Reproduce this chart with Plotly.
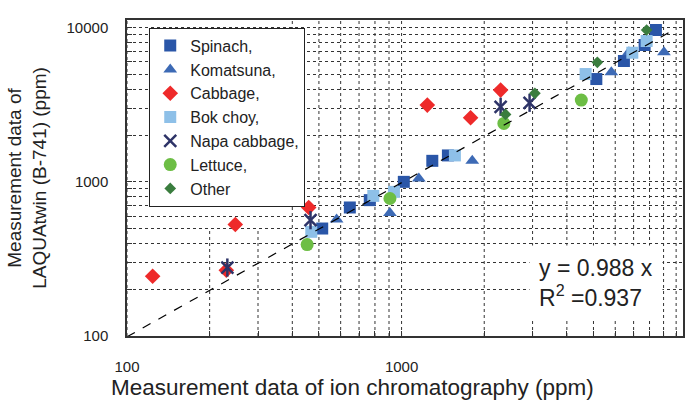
import plotly.graph_objects as go

# ---- data (ppm): x = ion chromatography, y = LAQUAtwin (B-741) ----
spinach_x = [514, 648, 766, 1019, 1294, 1475, 5121, 6454, 7677, 8440]
spinach_y = [498, 682, 761, 1000, 1369, 1484, 4645, 6081, 7723, 9660]

komatsuna_x = [580, 907, 1156, 1809, 5808, 6730, 9029]
komatsuna_y = [570, 629, 1052, 1369, 5133, 6923, 6923]

cabbage_x = [124, 248, 230, 459, 1241, 1784, 2295]
cabbage_y = [244, 529, 267, 682, 3148, 2604, 3939]

bokchoy_x = [469, 789, 938, 1564, 4680, 6925, 7808]
bokchoy_y = [474, 811, 861, 1484, 5005, 6881, 8197]

napa_x = [232, 466, 2295, 2926]
napa_y = [278, 564, 3069, 3258]

lettuce_x = [453, 907, 2358, 4514]
lettuce_y = [392, 780, 2394, 3393]

other_x = [2392, 3059, 5164, 7808]
other_y = [2740, 3750, 5963, 9660]

slope = 0.988
r2 = 0.937
trend_x = [100, 10000]

major_ticks = [100, 1000, 10000]
minor_ticks = [200, 300, 400, 500, 600, 700, 800, 900,
               2000, 3000, 4000, 5000, 6000, 7000, 8000, 9000]
short_vgrid = [200, 300]   # vertical grid lines only drawn up to y=500
short_vgrid_top = 500

x_title = "Measurement data of ion chromatography (ppm)"
y_title = "Measurement data of<br>LAQUAtwin (B-741) (ppm)"

FONT = "Liberation Sans"
TXT = "#222222"
NAPA = "#2E3468"

fig = go.Figure()

series = [
    ("Spinach,", spinach_x, spinach_y, "square", "#2A56A8", 12),
    ("Komatsuna,", komatsuna_x, komatsuna_y, "triangle-up", "#3D6AB5", 12),
    ("Cabbage,", cabbage_x, cabbage_y, "diamond", "#EE2A2A", 12),
    ("Bok choy,", bokchoy_x, bokchoy_y, "square", "#8EC0E8", 12),
]
for name, xs, ys, sym, col, sz in series:
    fig.add_trace(go.Scatter(x=xs, y=ys, mode="markers", name=name, legendgroup=name,
                             marker=dict(symbol=sym, color=col, size=sz, line=dict(width=0))))

# Napa cabbage: X with vertical bar (Excel star)
fig.add_trace(go.Scatter(x=napa_x, y=napa_y, mode="markers", name="Napa cabbage,",
                         legendgroup="napa",
                         marker=dict(symbol="x-thin-open", size=12, color=NAPA,
                                     line=dict(width=2.5, color=NAPA))))
fig.add_trace(go.Scatter(x=napa_x, y=napa_y, mode="markers", showlegend=False,
                         legendgroup="napa", hoverinfo="skip",
                         marker=dict(symbol="line-ns-open", size=13, color=NAPA,
                                     line=dict(width=2.5, color=NAPA))))

fig.add_trace(go.Scatter(x=lettuce_x, y=lettuce_y, mode="markers", name="Lettuce,",
                         legendgroup="lettuce",
                         marker=dict(symbol="circle", color="#6DBE45", size=13, line=dict(width=0))))
fig.add_trace(go.Scatter(x=other_x, y=other_y, mode="markers", name="Other",
                         legendgroup="other",
                         marker=dict(symbol="diamond", color="#3A7D3E", size=9, line=dict(width=0))))

# trend line y = 0.988 x
fig.add_trace(go.Scatter(x=trend_x, y=[slope * v for v in trend_x], mode="lines",
                         showlegend=False, hoverinfo="skip",
                         line=dict(color="black", width=1.2, dash="dash")))

# vertical grid lines
grid_line = dict(color="#333333", width=1, dash="dot")
for v in minor_ticks + major_ticks:
    if v in short_vgrid:
        fig.add_shape(type="line", xref="x", yref="y", x0=v, x1=v, y0=100, y1=short_vgrid_top,
                      line=grid_line, layer="below")
    else:
        fig.add_shape(type="line", xref="x", yref="paper", x0=v, x1=v, y0=0, y1=1,
                      line=grid_line, layer="below")

fig.add_annotation(xref="paper", yref="paper", x=0.8444, y=0.169,
                   xanchor="center", yanchor="middle",
                   text=f"y = {slope} x<br>R<sup>2</sup> ={r2}",
                   showarrow=False, align="left", bgcolor="white", borderpad=9,
                   font=dict(family=FONT, size=23, color=TXT))

# x-axis title (sits left of the plot centre in the reference)
fig.add_annotation(xref="paper", yref="paper", x=0.405, y=-0.206,
                   xanchor="center", yanchor="bottom", showarrow=False, borderpad=0,
                   text=x_title, font=dict(family=FONT, size=22.5, color=TXT))

axis_common = dict(type="log", showline=True, linecolor="#333333", linewidth=1.5, mirror=True,
                   ticks="inside", ticklen=5, tickcolor="#333333", automargin=False,
                   tickvals=major_ticks, ticktext=[str(v) for v in major_ticks],
                   tickfont=dict(family=FONT, size=15, color=TXT), zeroline=False)

fig.update_xaxes(**axis_common, range=[2, 4.025], showgrid=False,
                 minor=dict(tickvals=minor_ticks, ticks="inside", ticklen=5,
                            tickcolor="#333333", showgrid=False),
                 ticklabelstandoff=16)
fig.update_yaxes(**axis_common, range=[2, 4.05], showgrid=True, gridcolor="#333333",
                 griddash="dot", gridwidth=1,
                 minor=dict(tickvals=minor_ticks, ticks="inside", ticklen=5,
                            tickcolor="#333333", showgrid=True, gridcolor="#333333",
                            griddash="dot", gridwidth=1),
                 ticklabelstandoff=14,
                 title=dict(text=y_title, font=dict(family=FONT, size=19, color=TXT),
                            standoff=15))

fig.update_layout(
    width=694, height=403,
    margin=dict(l=127, r=11, t=20, b=67),
    paper_bgcolor="white", plot_bgcolor="white",
    legend=dict(x=0.040, y=0.9756, xanchor="left", yanchor="top",
                bgcolor="white", bordercolor="#222222", borderwidth=1,
                font=dict(family=FONT, size=16, color=TXT),
                tracegroupgap=0),
    showlegend=True,
)

fig.write_html("out.html", config={"displayModeBar": False},
               post_script="document.body.style.margin='0';document.body.style.overflow='hidden';")
